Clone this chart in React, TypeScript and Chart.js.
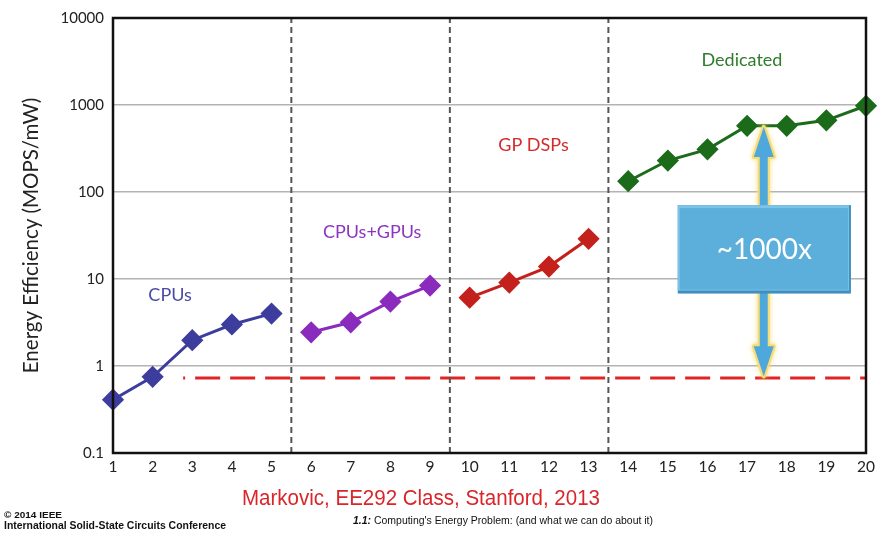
import React, { useEffect, useRef } from "react";
import Chart from "chart.js/auto";

// Energy efficiency (MOPS/mW) per design, grouped by processor class
const cpuX = [1, 2, 3, 4, 5];
const cpuY = [0.41, 0.75, 1.98, 3.0, 4.0];
const gpuX = [6, 7, 8, 9];
const gpuY = [2.44, 3.18, 5.5, 8.4];
const dspX = [10, 11, 12, 13];
const dspY = [6.1, 9.1, 13.9, 29];
const dedX = [14, 15, 16, 17, 18, 19, 20];
const dedY = [133, 230, 309, 577, 577, 666, 980];

// Group boundaries and the CPU reference level
const dividerX = [5.5, 9.5, 13.5];
const baselineValue = 0.73;
const baselineStart = 2.77;

const yTicks = [0.1, 1, 10, 100, 1000, 10000];
const xMin = 1;
const xMax = 20;

// Group captions placed in data coordinates
const groupLabels = [
  { text: "CPUs", x: 2.44, y: 6.6, color: "#4a4aa6" },
  { text: "CPUs+GPUs", x: 7.54, y: 34.7, color: "#8e35c0" },
  { text: "GP DSPs", x: 11.61, y: 342, color: "#d42a2a" },
  { text: "Dedicated", x: 16.87, y: 3281, color: "#2e7d2e" },
];

// Gap callout: double arrow from the dedicated level down to the CPU level
const gapLabel = "~1000x";
const arrowX = 17.42;
const arrowTop = 560;
const arrowBottom = 0.76;
const boxX = [15.25, 19.62];
const boxY = [70.7, 6.8];

const pts = (xs: number[], ys: number[]) => xs.map((x, i) => ({ x, y: ys[i] }));

const seriesStyle = (color: string) => ({
  borderColor: color,
  backgroundColor: color,
  pointBackgroundColor: color,
  pointBorderColor: color,
  borderWidth: 3,
  pointStyle: "rectRot" as const,
  pointRadius: 9,
  pointHoverRadius: 9,
  showLine: true,
  tension: 0,
  clip: false,
});

// Draws text squeezed horizontally so it spans the given width
function fillFit(ctx: CanvasRenderingContext2D, text: string, x: number, y: number, width: number) {
  const w = ctx.measureText(text).width;
  ctx.save();
  ctx.translate(x, y);
  ctx.scale(width / w, 1);
  ctx.fillText(text, 0, 0);
  ctx.restore();
}

const overlayPlugin = {
  id: "overlay",
  afterDatasetsDraw(chart: any) {
    const { ctx, scales } = chart;
    const xs = scales.x;
    const ys = scales.y;

    // Callout arrow
    const ax = xs.getPixelForValue(arrowX);
    const top = ys.getPixelForValue(arrowTop);
    const bot = ys.getPixelForValue(arrowBottom);
    const shaft = 4;
    const headW = 10;
    const headL = 30;
    ctx.save();
    ctx.beginPath();
    ctx.moveTo(ax, top);
    ctx.lineTo(ax + headW, top + headL);
    ctx.lineTo(ax + shaft, top + headL);
    ctx.lineTo(ax + shaft, bot - headL);
    ctx.lineTo(ax + headW, bot - headL);
    ctx.lineTo(ax, bot);
    ctx.lineTo(ax - headW, bot - headL);
    ctx.lineTo(ax - shaft, bot - headL);
    ctx.lineTo(ax - shaft, top + headL);
    ctx.lineTo(ax - headW, top + headL);
    ctx.closePath();
    ctx.shadowColor = "rgba(250,215,90,0.9)";
    ctx.shadowBlur = 5;
    ctx.lineWidth = 4;
    ctx.strokeStyle = "#f6dc78";
    ctx.lineJoin = "round";
    ctx.stroke();
    ctx.shadowBlur = 0;
    ctx.fillStyle = "#4ea8dc";
    ctx.fill();
    ctx.restore();

    // Callout box
    const bx0 = xs.getPixelForValue(boxX[0]);
    const bx1 = xs.getPixelForValue(boxX[1]);
    const by0 = ys.getPixelForValue(boxY[0]);
    const by1 = ys.getPixelForValue(boxY[1]);
    ctx.save();
    ctx.fillStyle = "#3f8fc0";
    ctx.fillRect(bx0, by0, bx1 - bx0, by1 - by0);
    ctx.fillStyle = "#7cc3e8";
    ctx.fillRect(bx0, by0, bx1 - bx0 - 2, by1 - by0 - 3);
    ctx.fillStyle = "#5caedb";
    ctx.fillRect(bx0 + 2, by0 + 3, bx1 - bx0 - 5, by1 - by0 - 7);
    ctx.fillStyle = "#ffffff";
    ctx.font = "28px Lato";
    ctx.textAlign = "center";
    ctx.textBaseline = "middle";
    ctx.fillText(gapLabel, (bx0 + bx1) / 2, (by0 + by1) / 2 + 1);
    ctx.restore();

    // Group captions
    ctx.save();
    ctx.font = "18px Lato";
    ctx.textAlign = "center";
    ctx.textBaseline = "middle";
    for (const l of groupLabels) {
      ctx.fillStyle = l.color;
      ctx.fillText(l.text, xs.getPixelForValue(l.x), ys.getPixelForValue(l.y));
    }
    ctx.restore();
  },
  afterDraw(chart: any) {
    const { ctx, chartArea } = chart;
    ctx.save();
    ctx.strokeStyle = "#111";
    ctx.lineWidth = 2.5;
    ctx.strokeRect(chartArea.left, chartArea.top, chartArea.right - chartArea.left, chartArea.bottom - chartArea.top);

    ctx.textAlign = "left";
    ctx.textBaseline = "alphabetic";

    ctx.fillStyle = "#d9262a";
    ctx.font = "22px 'Liberation Sans'";
    fillFit(ctx, "Markovic, EE292 Class, Stanford, 2013", 242, 505, 358);

    ctx.fillStyle = "#111";
    ctx.font = "bold 9.5px 'Liberation Sans'";
    fillFit(ctx, "© 2014 IEEE", 4, 518, 58);
    ctx.font = "bold 10px 'Liberation Sans'";
    fillFit(ctx, "International Solid-State Circuits Conference", 4, 529, 222);

    // Slide footer: bold italic section number followed by the title
    const pre = "1.1:";
    const rest = " Computing's Energy Problem: (and what we can do about it)";
    ctx.font = "italic bold 10px 'Liberation Sans'";
    const wPre = ctx.measureText(pre).width;
    ctx.font = "10px 'Liberation Sans'";
    const wRest = ctx.measureText(rest).width;
    const k = 300 / (wPre + wRest);
    ctx.save();
    ctx.translate(353, 524);
    ctx.scale(k, 1);
    ctx.font = "italic bold 10px 'Liberation Sans'";
    ctx.fillText(pre, 0, 0);
    ctx.font = "10px 'Liberation Sans'";
    ctx.fillText(rest, wPre, 0);
    ctx.restore();
    ctx.restore();
  },
};

export default function App() {
  const ref = useRef<HTMLCanvasElement | null>(null);

  useEffect(() => {
    if (!ref.current) return;
    const dividerSets = dividerX.map((x) => ({
      data: [
        { x, y: yTicks[0] },
        { x, y: yTicks[yTicks.length - 1] },
      ],
      borderColor: "#555",
      borderWidth: 2,
      borderDash: [6, 4],
      pointRadius: 0,
      showLine: true,
    }));
    const chart = new Chart(ref.current, {
      type: "scatter",
      data: {
        datasets: [
          ...dividerSets,
          {
            data: [
              { x: baselineStart, y: baselineValue },
              { x: xMax, y: baselineValue },
            ],
            borderColor: "#e02424",
            borderWidth: 3,
            borderDash: [25, 10],
            borderDashOffset: 23,
            pointRadius: 0,
            showLine: true,
          },
          { data: pts(cpuX, cpuY), ...seriesStyle("#3d3d9e") },
          { data: pts(gpuX, gpuY), ...seriesStyle("#8a2bbe") },
          { data: pts(dspX, dspY), ...seriesStyle("#c4211c") },
          { data: pts(dedX, dedY), ...seriesStyle("#1b6b1b") },
        ] as any,
      },
      options: {
        responsive: false,
        animation: false,
        layout: { padding: { top: 15, right: 14, left: 0, bottom: 0 } },
        plugins: { legend: { display: false }, tooltip: { enabled: false } },
        scales: {
          x: {
            type: "linear",
            min: xMin,
            max: xMax,
            grid: { display: false, drawTicks: false },
            border: { display: false },
            ticks: {
              stepSize: 1,
              padding: 5,
              color: "#222",
              font: { family: "Lato", size: 15.5 },
            },
            afterFit: (s: any) => {
              s.height = 81;
            },
          },
          y: {
            type: "logarithmic",
            min: yTicks[0],
            max: yTicks[yTicks.length - 1],
            afterBuildTicks: (s: any) => {
              s.ticks = yTicks.map((v) => ({ value: v }));
            },
            grid: { color: "#b3b3b3", lineWidth: 1.5, drawTicks: false },
            border: { display: false },
            ticks: {
              padding: 9,
              color: "#222",
              font: { family: "Lato", size: 15 },
              callback: (v: any) => String(v),
            },
            title: {
              display: true,
              text: "Energy Efficiency (MOPS/mW)",
              color: "#222",
              font: { family: "Lato", size: 20.5 },
              padding: { top: 19, bottom: 0 },
            },
            afterFit: (s: any) => {
              s.width = 113;
            },
          },
        },
      },
      plugins: [overlayPlugin],
    });
    return () => chart.destroy();
  }, []);

  return (
    <div style={{ position: "absolute", left: 0, top: 0, width: 880, height: 534, background: "#fff" }}>
      <canvas ref={ref} width={880} height={534} />
    </div>
  );
}
